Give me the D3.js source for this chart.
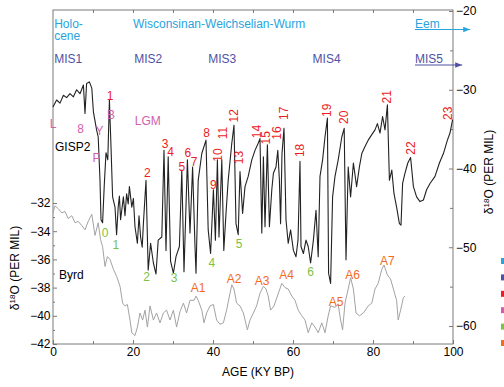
<!DOCTYPE html>
<html>
<head>
<meta charset="utf-8">
<script src="https://cdn.jsdelivr.net/npm/d3@7"></script>
<style>
    body { margin: 0; background: #fff; }
    svg text { font-family: "Liberation Sans", Arial, Helvetica, sans-serif; }
</style>
</head>
<body>
<div id="chart"></div>
<script>
(function () {
    // ---- data ----
    // GISP2 (Greenland), right axis
    var gispAge = [0.0, 0.9, 1.75, 2.6, 3.4, 4.25, 5.1, 5.9, 6.75, 7.6,
        8.0, 8.4, 9.1, 9.7, 10.1, 10.9, 11.3, 11.75, 12.0, 12.4,
        12.8, 13.25, 13.7, 14.1, 14.5, 14.9, 15.5, 15.9, 16.3, 16.6, 16.9,
        17.6, 18.0, 18.4, 18.8, 19.1, 19.7, 20.1, 20.5, 21.1, 21.5, 21.9, 22.3, 22.6, 23.25, 23.8,
        24.4, 25.1, 25.75, 26.3, 27.2, 27.75, 28.25, 28.8, 29.4, 30.1,
        30.75, 31.6, 32.2, 32.75, 33.6, 34.25, 34.9, 35.5, 35.75, 36.3,
        37.2, 38.25, 38.8, 39.4, 40.1, 40.6, 41.1, 41.5, 42.2, 42.7,
        43.25, 43.8, 44.7, 45.25, 45.75, 46.3, 46.75, 47.4, 48.0, 48.8,
        49.7, 50.5, 51.3, 51.75, 52.2, 52.6, 53.0, 53.6, 54.1, 54.7,
        55.1, 55.75, 56.2, 56.6, 56.9, 57.25, 57.75, 58.25, 58.8, 59.4,
        60.1, 60.75, 61.25, 61.75, 62.0, 62.6, 63.25, 63.8, 64.4, 65.1,
        65.75, 66.3, 66.75, 67.4, 68.0, 68.6, 68.9, 69.4, 69.9, 70.5,
        71.3, 72.2, 72.8, 73.25, 73.8, 74.4, 75.1, 75.9, 76.6, 77.2,
        78.0, 78.8, 79.7, 80.5, 81.1, 81.75, 82.4, 83.0, 83.6, 84.1,
        84.7, 85.25, 85.9, 86.6, 87.0, 87.4, 88.0, 88.7, 89.4, 90.1,
        90.9, 91.75, 92.6, 93.4, 94.25, 95.5, 96.6, 97.6, 98.6, 99.25,
        99.9];
    var gispD18O = [-32.2, -31.3, -31.7, -30.7, -31.0, -30.5, -30.9, -30.0, -30.5, -29.4,
        -33.0, -29.2, -29.0, -29.8, -32.8, -35.1, -36.0, -41.5, -46.5, -46.9,
        -42.3, -38.0, -38.9, -31.3, -37.2, -43.6, -44.9, -48.4, -44.9, -43.5, -46.5,
        -43.6, -46.0, -43.2, -44.5, -42.3, -44.9, -43.8, -47.4, -49.5, -46.0, -48.7, -50.0, -47.0, -41.5, -52.9,
        -49.5, -52.0, -53.4, -49.1, -48.7, -37.7, -50.4, -38.5, -51.8, -53.3,
        -51.2, -49.9, -40.2, -53.1, -38.9, -48.2, -39.8, -49.9, -53.3, -41.5,
        -38.1, -36.4, -47.8, -50.8, -42.7, -49.1, -38.9, -48.7, -38.9, -50.4,
        -45.7, -41.5, -36.8, -34.5, -47.0, -48.4, -40.4, -45.7, -42.3, -41.0,
        -38.9, -37.7, -36.8, -36.2, -48.2, -38.5, -47.4, -37.0, -47.4, -42.7,
        -40.6, -39.8, -37.7, -41.5, -47.0, -38.1, -34.9, -46.5, -49.5, -47.8,
        -50.4, -51.2, -49.1, -39.1, -49.9, -50.8, -49.1, -49.9, -52.0, -49.1,
        -45.3, -51.2, -41.0, -38.9, -36.0, -33.6, -53.3, -54.6, -43.6, -41.0,
        -38.9, -36.0, -34.9, -51.6, -39.8, -43.6, -39.3, -42.3, -39.8, -38.1,
        -37.2, -36.4, -35.7, -35.1, -34.3, -35.5, -33.4, -35.1, -31.9, -41.5,
        -40.2, -43.2, -44.9, -47.0, -47.2, -41.9, -40.6, -39.3, -38.6, -42.3,
        -43.6, -44.2, -44.0, -42.7, -41.9, -41.0, -39.3, -38.1, -36.4, -35.5,
        -33.8];

    // Byrd (Antarctica), left axis
    var byrdAge = [0.0, 0.5, 1.3, 2.2, 3.0, 3.8, 4.7, 5.5, 6.3, 7.2,
        8.0, 8.8, 9.7, 10.5, 11.3, 11.9, 12.4, 13.0, 13.6, 14.25,
        15.1, 15.9, 16.75, 17.4, 18.0, 18.6, 19.25, 19.7, 20.5, 21.1,
        21.75, 22.4, 23.0, 23.6, 24.25, 25.1, 25.9, 26.75, 27.6, 28.4,
        29.25, 30.1, 30.9, 31.75, 32.6, 33.4, 34.25, 35.25, 35.75, 36.3,
        37.2, 37.75, 38.4, 39.25, 40.1, 40.9, 41.75, 42.6, 43.4, 44.25,
        44.7, 45.25, 45.9, 46.75, 47.6, 48.6, 49.25, 50.1, 50.9, 51.75,
        52.6, 53.25, 53.8, 54.4, 55.25, 56.1, 57.2, 58.0, 58.8, 59.7,
        60.5, 61.3, 62.2, 63.0, 63.8, 64.7, 65.5, 66.3, 67.2, 68.0,
        68.8, 69.4, 70.5, 71.3, 71.9, 72.4, 73.0, 73.8, 74.4, 75.1,
        75.75, 76.6, 77.6, 78.8, 79.7, 80.5, 81.3, 82.2, 82.75, 83.6,
        84.4, 85.1, 85.9, 86.3, 86.9, 87.6, 88.0];
    var byrdD18O = [-32.7, -32.2, -32.4, -32.7, -32.6, -33.1, -32.9, -33.4, -33.3, -33.6,
        -33.9, -33.3, -32.8, -34.3, -33.4, -34.6, -35.1, -36.5, -35.8, -36.0,
        -36.7, -37.2, -37.9, -39.1, -39.3, -39.2, -40.3, -41.2, -41.4, -40.8,
        -39.8, -40.3, -39.6, -40.8, -39.3, -40.3, -39.8, -40.5, -39.8, -39.6,
        -40.3, -39.6, -40.8, -39.7, -39.1, -39.8, -38.9, -38.9, -38.6, -38.9,
        -39.6, -40.5, -39.8, -39.3, -39.2, -40.3, -40.6, -40.5, -39.6, -38.4,
        -37.8, -38.1, -39.1, -39.3, -39.8, -41.0, -40.3, -39.8, -39.3, -38.4,
        -37.9, -38.1, -38.6, -39.6, -39.3, -38.6, -37.7, -38.0, -38.1, -38.6,
        -38.9, -39.6, -40.0, -40.3, -41.2, -40.5, -40.8, -41.2, -40.5, -41.2,
        -40.0, -39.3, -39.4, -39.2, -40.3, -41.0, -39.1, -38.1, -37.3, -38.1,
        -39.8, -40.0, -39.8, -39.3, -39.1, -38.1, -37.7, -36.7, -36.4, -37.1,
        -37.4, -38.1, -38.9, -40.3, -39.6, -38.7, -38.6];

    // axis ticks
    var ageTicks = [0, 20, 40, 60, 80, 100];
    var ageMinorTicks = [10, 30, 50, 70, 90];
    var leftTicks = [-42, -40, -38, -36, -34, -32];
    var leftMinorTicks = [-41, -39, -37, -35, -33];
    var rightTicks = [-60, -50, -40, -30, -20];
    var rightMinorTicks = [-55, -45, -35, -25];

    // Dansgaard-Oeschger interstadials (red), positioned in GISP2 units
    var doNames = ['1', '2', '3', '4', '5', '6', '7', '8', '9', '10', '11', '12',
        '13', '14', '15', '16', '17', '18', '19', '20', '21', '22', '23'];
    var doAge = [14.25, 23.6, 28.0, 29.4, 32.2, 33.7, 35.25, 38.4, 40.1, 41.3, 42.4, 45.2,
        46.5, 50.9, 53.25, 55.9, 57.6, 61.75, 68.4, 72.8, 83.4, 89.4, 98.6];
    var doVal = [-30.8, -40.5, -36.8, -37.9, -39.8, -38.0, -39.1, -35.5, -42.1, -38.3, -35.5, -33.3,
        -38.6, -35.3, -36.1, -35.5, -33.0, -37.7, -32.6, -33.5, -30.9, -37.4, -33.0];

    // deglaciation markers (pink), GISP2 units
    var deglNames = ['L', '8', 'Y', 'P', 'B', 'LGM'];
    var deglAge = [0.0, 6.9, 11.6, 10.9, 14.5, 23.7];
    var deglVal = [-34.3, -34.9, -35.2, -38.7, -33.2, -33.9];

    // Heinrich events (green), GISP2 units
    var heinNames = ['0', '1', '2', '3', '4', '5', '6'];
    var heinAge = [13.0, 15.7, 23.4, 30.25, 39.7, 46.5, 64.4];
    var heinVal = [-48.2, -49.7, -53.8, -53.9, -52.0, -49.5, -53.1];

    // Antarctic warm events (orange), Byrd units
    var antNames = ['A1', 'A2', 'A3', 'A4', 'A5', 'A6', 'A7'];
    var antAge = [36.3, 45.3, 52.3, 58.4, 70.75, 74.9, 83.6];
    var antVal = [-38.0, -37.4, -37.55, -37.1, -39.0, -37.1, -36.1];

    // climate periods & marine isotope stages (start age of label)
    var periodNames = ['Holo-|cene', 'Wisconsinan-Weichselian-Wurm', 'Eem'];
    var periodAge = [0.3, 20.0, 90.5];
    var stageNames = ['MIS1', 'MIS2', 'MIS3', 'MIS4', 'MIS5'];
    var stageAge = [0.3, 20.3, 38.8, 64.9, 90.5];

    // ---- layout ----
    var W = 504, H = 387;
    var LEFT = 53, RIGHT = 453, TOP = 10, BOTTOM = 344;
    var FONT = 12;
    var C_BLUE = '#27a4de';
    var C_INDIGO = '#4f52a4';
    var C_RED = '#ec1c24';
    var C_PINK = '#d25fae';
    var C_GREEN = '#7dc242';
    var C_ORANGE = '#f26b22';
    var C_AXIS = '#7a7a7a';

    var svg = d3.select('#chart').append('svg')
        .attr('width', W).attr('height', H);

    var x = d3.scaleLinear().domain([0, 100]).range([LEFT, RIGHT]);
    var yL = d3.scaleLinear().domain([-42, -32]).range([BOTTOM, 203]);
    var yR = d3.scaleLinear().domain([-60, -20]).range([326, 11]);

    function styleAxis(g) {
        g.select('.domain').remove();
        g.selectAll('line').attr('stroke', C_AXIS);
        g.selectAll('text').attr('font-size', FONT).attr('fill', '#000')
            .style('font-family', '"Liberation Sans", Arial, sans-serif');
    }

    // axes (ticks point inward)
    svg.append('g').attr('transform', 'translate(0,' + BOTTOM + ')')
        .call(d3.axisBottom(x).tickValues(ageTicks).tickSize(-4).tickPadding(3.5).tickFormat(d3.format('d')))
        .call(styleAxis);
    svg.append('g').attr('transform', 'translate(0,' + BOTTOM + ')')
        .call(d3.axisBottom(x).tickValues(ageMinorTicks).tickSize(-3).tickFormat(''))
        .call(styleAxis);
    svg.append('g').attr('transform', 'translate(0,' + TOP + ')')
        .call(d3.axisTop(x).tickValues(ageMinorTicks.concat(ageTicks.slice(1, 5))).tickSize(-3).tickFormat(''))
        .call(styleAxis);
    svg.append('g').attr('transform', 'translate(' + LEFT + ',0)')
        .call(d3.axisLeft(yL).tickValues(leftTicks).tickSize(-4).tickPadding(2.5).tickFormat(d3.format('d')))
        .call(styleAxis);
    svg.append('g').attr('transform', 'translate(' + LEFT + ',0)')
        .call(d3.axisLeft(yL).tickValues(leftMinorTicks).tickSize(-2).tickFormat(''))
        .call(styleAxis);
    svg.append('g').attr('transform', 'translate(' + RIGHT + ',0)')
        .call(d3.axisRight(yR).tickValues(rightTicks).tickSize(-4).tickPadding(3).tickFormat(d3.format('d')))
        .call(styleAxis);
    svg.append('g').attr('transform', 'translate(' + RIGHT + ',0)')
        .call(d3.axisRight(yR).tickValues(rightMinorTicks).tickSize(-3).tickFormat(''))
        .call(styleAxis);

    // frame
    svg.append('rect')
        .attr('x', LEFT).attr('y', TOP)
        .attr('width', RIGHT - LEFT).attr('height', BOTTOM - TOP)
        .attr('fill', 'none').attr('stroke', C_AXIS).attr('stroke-width', 1);

    // series
    var byrd = byrdAge.map(function (a, i) { return [a, byrdD18O[i]]; });
    var gisp = gispAge.map(function (a, i) { return [a, gispD18O[i]]; });

    svg.append('path').datum(byrd)
        .attr('fill', 'none').attr('stroke', '#a3a3a3').attr('stroke-width', 1)
        .attr('stroke-linejoin', 'round')
        .attr('d', d3.line().x(function (d) { return x(d[0]); }).y(function (d) { return yL(d[1]); }));

    svg.append('path').datum(gisp)
        .attr('fill', 'none').attr('stroke', '#222').attr('stroke-width', 1.1)
        .attr('stroke-linejoin', 'round')
        .attr('d', d3.line().x(function (d) { return x(d[0]); }).y(function (d) { return yR(d[1]); }));

    // helper for centred labels
    function labels(names, ages, vals, yScale, color, rotateFrom) {
        names.forEach(function (n, i) {
            var px = x(ages[i]), py = yScale(vals[i]);
            var t = svg.append('text')
                .attr('font-size', FONT).attr('fill', color)
                .attr('text-anchor', 'middle').attr('dy', '0.35em')
                .text(n);
            if (rotateFrom !== undefined && +n >= rotateFrom) {
                t.attr('transform', 'translate(' + px + ',' + py + ') rotate(-90)');
            } else {
                t.attr('x', px).attr('y', py);
            }
        });
    }

    labels(doNames, doAge, doVal, yR, C_RED, 10);
    labels(deglNames, deglAge, deglVal, yR, C_PINK);
    labels(heinNames, heinAge, heinVal, yR, C_GREEN);
    labels(antNames, antAge, antVal, yL, C_ORANGE);

    // record names
    svg.append('text').attr('x', x(0.5)).attr('y', 147).attr('dy', '0.35em')
        .attr('font-size', FONT).text('GISP2');
    svg.append('text').attr('x', x(1.5)).attr('y', 275).attr('dy', '0.35em')
        .attr('font-size', FONT).text('Byrd');

    // climate periods (two-line label kept in one text element)
    periodNames.forEach(function (n, i) {
        var t = svg.append('text').attr('x', x(periodAge[i])).attr('y', 24)
            .attr('dy', '0.35em').attr('font-size', FONT).attr('fill', C_BLUE);
        n.split('|').forEach(function (line, j) {
            t.append('tspan').attr('x', x(periodAge[i])).attr('dy', j === 0 ? '0.35em' : 11.8).text(line);
        });
    });
    stageNames.forEach(function (n, i) {
        svg.append('text').attr('x', x(stageAge[i])).attr('y', 59)
            .attr('dy', '0.35em').attr('font-size', FONT).attr('fill', C_INDIGO)
            .text(n);
    });

    // arrows continuing past the plot (Eem, MIS5)
    var defs = svg.append('defs');
    [['arrBlue', C_BLUE], ['arrIndigo', C_INDIGO]].forEach(function (m) {
        defs.append('marker')
            .attr('id', m[0]).attr('viewBox', '0 -5 10 10')
            .attr('refX', 10).attr('refY', 0)
            .attr('markerWidth', 7).attr('markerHeight', 7)
            .attr('markerUnits', 'userSpaceOnUse')
            .attr('orient', 'auto')
            .append('path').attr('d', 'M0,-4L10,0L0,4Z').attr('fill', m[1]);
    });
    svg.append('line')
        .attr('x1', x(90.5)).attr('x2', x(104.3)).attr('y1', 29.5).attr('y2', 29.5)
        .attr('stroke', C_BLUE).attr('stroke-width', 1.2).attr('marker-end', 'url(#arrBlue)');
    svg.append('line')
        .attr('x1', x(90.5)).attr('x2', x(102.3)).attr('y1', 65).attr('y2', 65)
        .attr('stroke', C_INDIGO).attr('stroke-width', 1.2).attr('marker-end', 'url(#arrIndigo)');

    // axis titles
    function yTitle(cx, cy) {
        var t = svg.append('text')
            .attr('transform', 'translate(' + cx + ',' + cy + ') rotate(-90)')
            .attr('text-anchor', 'middle').attr('dy', '0.35em').attr('font-size', FONT);
        t.append('tspan').text('\u03b4');
        t.append('tspan').attr('font-size', 8).attr('dy', '-0.5em').text('18');
        t.append('tspan').attr('dy', '0.3em').text('O (PER MIL)');
    }
    yTitle(15, 268);
    yTitle(489, 172);

    svg.append('text').attr('x', 258).attr('y', 372).attr('dy', '0.35em')
        .attr('text-anchor', 'middle').attr('font-size', FONT).text('AGE (KY BP)');

    // clipped legend swatches at right edge
    var swatchColors = [C_BLUE, C_INDIGO, C_RED, C_PINK, C_GREEN, C_ORANGE];
    svg.selectAll('rect.sw').data(swatchColors).join('rect')
        .attr('class', 'sw')
        .attr('x', 501).attr('y', function (d, i) { return 258 + i * 16.4; })
        .attr('width', 8).attr('height', 6)
        .attr('fill', function (d) { return d; });
}());
</script>
</body>
</html>
